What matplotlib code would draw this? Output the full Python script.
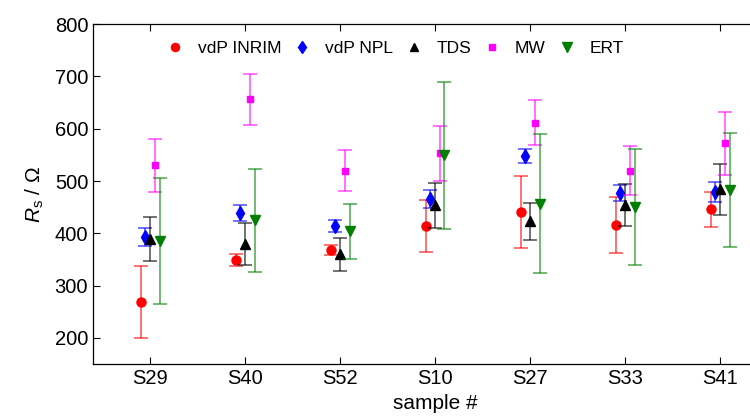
import numpy as np
import matplotlib
matplotlib.use("Agg")
import matplotlib.pyplot as plt

plt.rcParams["font.family"] = ["Liberation Sans", "DejaVu Sans"]
plt.rcParams["mathtext.fontset"] = "custom"
plt.rcParams["mathtext.rm"] = "Liberation Sans"
plt.rcParams["mathtext.it"] = "Liberation Sans:italic"

samples = ["S29", "S40", "S52", "S10", "S27", "S33", "S41"]

inrim = [269, 349, 368, 414, 441, 416, 446]
inrim_err = [69, 12, 10, 49, 69, 54, 33]
npl = [393, 439, 414, 466, 548, 477, 479]
npl_err = [17, 16, 12, 17, 13, 15, 19]
tds = [390, 380, 360, 454, 423, 454, 484]
tds_err = [42, 40, 32, 43, 35, 40, 48]
mw = [530, 656, 520, 553, 611, 520, 572]
mw_err = [51, 48, 39, 52, 43, 47, 60]
ert = [385, 425, 404, 549, 457, 451, 483]
ert_err = [121, 98, 53, 141, 132, 111, 109]

series = [
    ("vdP INRIM", inrim, inrim_err, "#ff0000", "o", 6.5),
    ("vdP NPL", npl, npl_err, "#0000ff", "d", 7),
    ("TDS", tds, tds_err, "#000000", "^", 7),
    ("MW", mw, mw_err, "#ff00ff", "s", 5),
    ("ERT", ert, ert_err, "#008000", "v", 7.5),
]
offsets = [-0.1, -0.05, 0.0, 0.05, 0.1]

fig = plt.figure(figsize=(7.5, 4.19), dpi=100)
ax = fig.add_axes([0.124, 0.131, 0.912, 0.8115])

x = np.arange(1, len(samples) + 1)
for (label, vals, err, col, mk, ms), off in zip(series, offsets):
    ax.errorbar(x + off, vals, yerr=err, fmt="none", ecolor=col,
                elinewidth=1.1, capsize=5, capthick=1.1, alpha=0.7)
    ax.plot(x + off, vals, linestyle="none", marker=mk, color=col,
            markersize=ms, label=label)

ax.set_xlim(0.4, 7.6)
ax.set_ylim(150, 800)
ax.set_xticks(x)
ax.set_xticklabels(samples)
ax.set_yticks(range(200, 801, 100))
ax.tick_params(direction="in", top=True, right=True, labelsize=14.5,
               length=5, width=0.8)
for s in ax.spines.values():
    s.set_linewidth(0.9)

ax.set_ylabel(r"$R_\mathrm{s}$ / $\Omega$", fontsize=15, labelpad=6)
ax.set_xlabel("sample #", fontsize=15, labelpad=4)

ax.legend(loc="center left", bbox_to_anchor=(0.097, 0.929), ncol=5,
          frameon=False, fontsize=12.5, handlelength=1.0, handletextpad=0.8,
          columnspacing=0.72, markerscale=0.9, borderaxespad=0)

plt.savefig("out.png", dpi=100)
